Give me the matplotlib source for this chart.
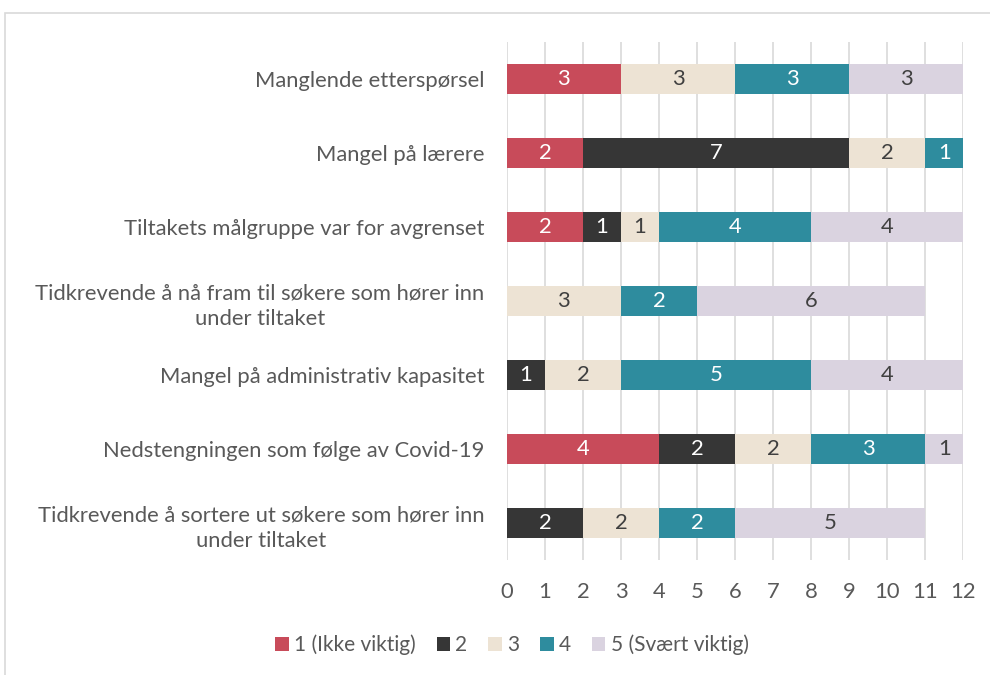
import matplotlib.pyplot as plt
from matplotlib.patches import Rectangle

categories = [
    "Manglende etterspørsel",
    "Mangel på lærere",
    "Tiltakets målgruppe var for avgrenset",
    "Tidkrevende å nå fram til søkere som hører inn\nunder tiltaket",
    "Mangel på administrativ kapasitet",
    "Nedstengningen som følge av Covid-19",
    "Tidkrevende å sortere ut søkere som hører inn\nunder tiltaket",
]
series_names = ["1 (Ikke viktig)", "2", "3", "4", "5 (Svært viktig)"]
v1 = [3, 2, 2, 0, 0, 4, 0]
v2 = [0, 7, 1, 0, 1, 2, 2]
v3 = [3, 2, 1, 3, 2, 2, 2]
v4 = [3, 1, 4, 2, 5, 3, 2]
v5 = [3, 0, 4, 6, 4, 1, 5]
values = [v1, v2, v3, v4, v5]

colors = ["#C84B5A", "#363636", "#EDE3D4", "#2E8C9E", "#DAD3E0"]
text_colors = ["white", "white", "#404040", "white", "#404040"]
gray = "#595959"
fs = 15.8

plt.rcParams['font.family'] = ['Lato', 'DejaVu Sans']

fig = plt.figure(figsize=(9.9, 6.75), dpi=100)
ax = fig.add_axes([0.512, 0.170, 0.461, 0.768])

# outer chart frame
fig.patches.append(Rectangle((5 / 990, -0.1), 1.2, 1 - 13 / 675 + 0.1,
                             transform=fig.transFigure, fill=False,
                             edgecolor="#D9D9D9", linewidth=1.2))

y = list(range(len(categories)))
left = [0] * len(categories)
for i, vals in enumerate(values):
    bars = ax.barh(y, vals, left=left, height=0.4, color=colors[i],
                   label=series_names[i], zorder=3)
    for b, v in zip(bars, vals):
        if v > 0:
            ax.text(b.get_x() + b.get_width() / 2, b.get_y() + b.get_height() / 2,
                    str(v), ha="center", va="center", color=text_colors[i],
                    fontsize=fs, zorder=4)
    left = [l + v for l, v in zip(left, vals)]

ax.set_xlim(0, 12)
ax.set_ylim(len(categories) - 0.5, -0.5)
ax.set_xticks(range(13))
ax.set_yticks(y)
ax.set_yticklabels(categories, fontsize=fs, color=gray, linespacing=1.35)
ax.tick_params(axis="x", labelsize=fs, colors=gray, length=0, pad=16)
ax.tick_params(axis="y", length=0, pad=16)
for lbl in ax.get_yticklabels():
    lbl.set_horizontalalignment("right")
    lbl.set_multialignment("center")
ax.grid(axis="x", color="#D9D9D9", linewidth=1.2, zorder=0)
for s in ax.spines.values():
    s.set_visible(False)

fig.legend(loc="center", bbox_to_anchor=(512 / 990, 1 - 645 / 675), ncol=5,
           frameon=False, fontsize=15, labelcolor=gray, handlelength=0.65,
           handleheight=0.65, handletextpad=0.25, columnspacing=1.0)

fig.savefig("out.png", dpi=100)
